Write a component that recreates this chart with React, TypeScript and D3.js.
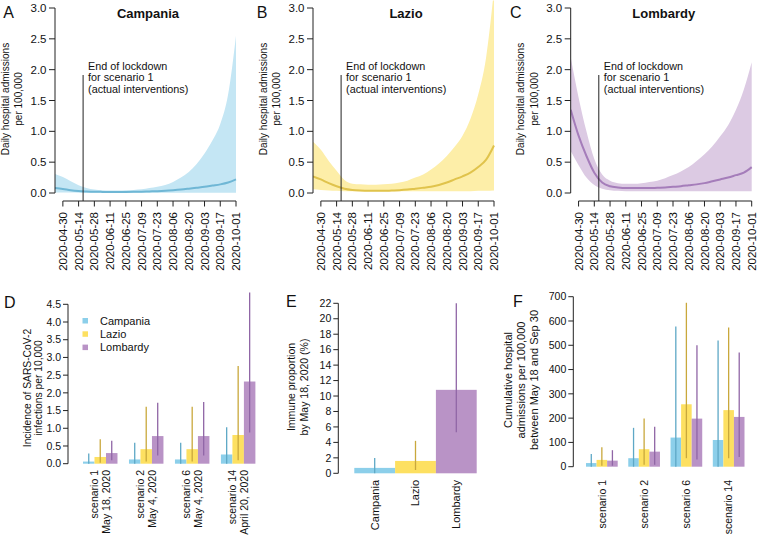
import React from 'react';
import * as d3 from 'd3';

// ---------- data ----------
const curveDates = [
  '2020-04-23', '2020-04-30', '2020-05-07', '2020-05-14', '2020-05-21', '2020-05-28',
  '2020-06-04', '2020-06-11', '2020-06-18', '2020-06-25', '2020-07-02', '2020-07-09',
  '2020-07-16', '2020-07-23', '2020-07-30', '2020-08-06', '2020-08-13', '2020-08-20',
  '2020-08-27', '2020-09-03', '2020-09-10', '2020-09-17', '2020-09-24', '2020-10-01',
];
const tickDates = [
  '2020-04-30', '2020-05-14', '2020-05-28', '2020-06-11', '2020-06-25', '2020-07-09',
  '2020-07-23', '2020-08-06', '2020-08-20', '2020-09-03', '2020-09-17', '2020-10-01',
];
const lockdownDate = '2020-05-18';
const dailyTicks = [0, 0.5, 1, 1.5, 2, 2.5, 3];

const campaniaUpper = [0.31, 0.26, 0.19, 0.125, 0.08, 0.055, 0.045, 0.04, 0.04, 0.045, 0.05, 0.06, 0.08, 0.1, 0.13, 0.18, 0.25, 0.34, 0.47, 0.64, 0.85, 1.12, 1.6, 2.55];
const campaniaMean = [0.08, 0.065, 0.045, 0.032, 0.025, 0.02, 0.018, 0.017, 0.017, 0.018, 0.02, 0.022, 0.026, 0.03, 0.036, 0.045, 0.056, 0.07, 0.085, 0.1, 0.12, 0.14, 0.17, 0.22];
const campaniaLower = [0.01, 0.01, 0.008, 0.006, 0.005, 0.005, 0.005, 0.005, 0.005, 0.005, 0.005, 0.005, 0.005, 0.005, 0.005, 0.005, 0.005, 0.005, 0.005, 0.005, 0.005, 0.005, 0.005, 0.005];

const lazioUpper = [0.83, 0.7, 0.52, 0.36, 0.21, 0.15, 0.14, 0.135, 0.135, 0.14, 0.15, 0.17, 0.2, 0.25, 0.3, 0.38, 0.48, 0.6, 0.75, 0.93, 1.2, 1.6, 2.2, 3.3];
const lazioMean = [0.27, 0.22, 0.16, 0.11, 0.07, 0.05, 0.04, 0.035, 0.035, 0.035, 0.04, 0.045, 0.055, 0.07, 0.085, 0.1, 0.13, 0.17, 0.22, 0.27, 0.33, 0.42, 0.54, 0.77];
const lazioLower = [0.06, 0.05, 0.04, 0.035, 0.03, 0.03, 0.03, 0.03, 0.03, 0.03, 0.03, 0.03, 0.03, 0.03, 0.03, 0.03, 0.03, 0.03, 0.03, 0.03, 0.03, 0.035, 0.035, 0.04];

const lombardyUpper = [2.2, 1.55, 1.0, 0.55, 0.3, 0.2, 0.16, 0.15, 0.15, 0.16, 0.18, 0.2, 0.24, 0.29, 0.35, 0.42, 0.52, 0.63, 0.76, 0.92, 1.1, 1.35, 1.68, 2.12];
const lombardyMean = [1.35, 0.93, 0.6, 0.33, 0.17, 0.11, 0.09, 0.08, 0.08, 0.08, 0.08, 0.085, 0.09, 0.1, 0.11, 0.125, 0.14, 0.16, 0.19, 0.22, 0.25, 0.29, 0.33, 0.42];
const lombardyLower = [0.68, 0.45, 0.25, 0.13, 0.07, 0.045, 0.035, 0.03, 0.03, 0.03, 0.03, 0.03, 0.03, 0.03, 0.03, 0.03, 0.03, 0.03, 0.03, 0.03, 0.03, 0.03, 0.03, 0.03];

const regions = ['Campania', 'Lazio', 'Lombardy'];

// Panel D: incidence per 10,000
const scenariosD = ['scenario 1', 'scenario 2', 'scenario 6', 'scenario 14'];
const scenarioDatesD = ['May 18, 2020', 'May 4, 2020', 'May 4, 2020', 'April 20, 2020'];
const incidenceMean = [[0.06, 0.19, 0.3], [0.12, 0.41, 0.78], [0.12, 0.41, 0.78], [0.26, 0.81, 2.32]];
const incidenceLow = [[0.0, 0.03, 0.1], [0.0, 0.06, 0.23], [0.0, 0.06, 0.23], [0.0, 0.1, 0.88]];
const incidenceHigh = [[0.29, 0.69, 0.65], [0.59, 1.61, 1.72], [0.59, 1.61, 1.74], [1.03, 2.76, 4.83]];
const incidenceTicks = [0, 0.5, 1, 1.5, 2, 2.5, 3, 3.5, 4, 4.5];

// Panel E: immune proportion (%)
const immuneMean = [0.7, 1.6, 10.8];
const immuneLow = [0.0, 0.43, 5.3];
const immuneHigh = [1.98, 4.2, 22];
const immuneTicks = [0, 2, 4, 6, 8, 10, 12, 14, 16, 18, 20, 22];

// Panel F: cumulative hospital admissions per 100,000
const scenariosF = ['scenario 1', 'scenario 2', 'scenario 6', 'scenario 14'];
const cumMean = [[15, 28, 25], [35, 72, 62], [120, 257, 198], [110, 233, 205]];
const cumLow = [[0, 4, 4], [0, 8, 8], [0, 35, 30], [0, 35, 40]];
const cumHigh = [[52, 80, 68], [160, 198, 165], [577, 675, 500], [520, 573, 470]];
const cumTicks = [0, 100, 200, 300, 400, 500, 600, 700];

// ---------- styles ----------
const FONT = '"Liberation Sans", Arial, Helvetica, sans-serif';
const AXIS = '#222';
const barColors = ['#8ccfea', '#fde061', '#b993c6'];
const errColors = ['#5ea8c6', '#c9a83c', '#9066a6'];
const bandColors = ['#c4e6f4', '#fdeea8', '#dccae3'];
const lineColors = ['#6fb7d5', '#e0c34c', '#a57dba'];

const parse = d3.timeParse('%Y-%m-%d');

type TopProps = {
  ox: number; labelX: number; letter: string; title: string; idx: number;
  upper: number[]; mean: number[]; lower: number[];
};

function TopPanel({ ox, labelX, letter, title, idx, upper, mean, lower }: TopProps) {
  const axisX = 55 + ox;
  const x = d3.scaleTime()
    .domain([parse(curveDates[0])!, parse(curveDates[curveDates.length - 1])!])
    .range([axisX, axisX + 181]);
  const y = d3.scaleLinear().domain([0, 3]).range([193, 8]);
  const pts = curveDates.map((d, i) => ({ d: parse(d)!, u: upper[i], m: mean[i], l: lower[i] }));
  const area = d3.area<any>().x(p => x(p.d)).y0(p => y(p.l)).y1(p => y(p.u)).curve(d3.curveMonotoneX);
  const line = d3.line<any>().x(p => x(p.d)).y(p => y(p.m)).curve(d3.curveMonotoneX);
  const clipId = `clip-${letter}`;
  const lx = x(parse(lockdownDate)!);
  const t0 = x(parse(tickDates[0])!);
  const t1 = x(parse(tickDates[tickDates.length - 1])!);
  return (
    <g>
      <defs>
        <clipPath id={clipId}>
          <rect x={axisX} y={0.6} width={182} height={200} />
        </clipPath>
      </defs>
      <g clipPath={`url(#${clipId})`}>
        <path d={area(pts) || ''} fill={bandColors[idx]} />
        <path d={line(pts) || ''} fill="none" stroke={lineColors[idx]} strokeWidth={2} />
      </g>
      {/* y axis */}
      <line x1={axisX} x2={axisX} y1={y(0)} y2={y(3)} stroke={AXIS} strokeWidth={1} />
      {dailyTicks.map(t => (
        <g key={t}>
          <line x1={axisX - 6} x2={axisX} y1={y(t)} y2={y(t)} stroke={AXIS} />
          <text x={axisX - 8.5} y={y(t)} dy="0.35em" textAnchor="end" fontSize={11.5}>{t.toFixed(1)}</text>
        </g>
      ))}
      {/* x axis */}
      <line x1={t0} x2={t1} y1={201} y2={201} stroke={AXIS} />
      {tickDates.map(t => {
        const tx = x(parse(t)!);
        return (
          <g key={t}>
            <line x1={tx} x2={tx} y1={201} y2={206.5} stroke={AXIS} />
            <text transform={`translate(${tx},212) rotate(-90)`} dy="0.35em" textAnchor="end" fontSize={11.5}>{t}</text>
          </g>
        );
      })}
      {/* lockdown */}
      <line x1={lx} x2={lx} y1={75} y2={201} stroke={AXIS} strokeWidth={1} />
      <text x={lx + 5} y={69.5} fontSize={10.8}>End of lockdown</text>
      <text x={lx + 5} y={81} fontSize={10.8}>for scenario 1</text>
      <text x={lx + 5} y={92.5} fontSize={10.8}>(actual interventions)</text>
      {/* titles */}
      <text x={axisX + 93} y={18} textAnchor="middle" fontSize={13} fontWeight="bold">{title}</text>
      <text x={labelX} y={17.5} fontSize={16}>{letter}</text>
      <text transform={`translate(${axisX - 50},99) rotate(-90)`} dy="0.35em" textAnchor="middle" fontSize={10}>Daily hospital admissions</text>
      <text transform={`translate(${axisX - 36.5},99) rotate(-90)`} dy="0.35em" textAnchor="middle" fontSize={10}>per 100,000</text>
    </g>
  );
}

function YAxis({ x, scale, ticks, fmt, fontSize }: { x: number; scale: d3.ScaleLinear<number, number>; ticks: number[]; fmt: (v: number) => string; fontSize: number }) {
  return (
    <g>
      <line x1={x} x2={x} y1={scale(ticks[0])} y2={scale(ticks[ticks.length - 1])} stroke={AXIS} />
      {ticks.map(t => (
        <g key={t}>
          <line x1={x - 5} x2={x} y1={scale(t)} y2={scale(t)} stroke={AXIS} />
          <text x={x - 7} y={scale(t)} dy="0.35em" textAnchor="end" fontSize={fontSize}>{fmt(t)}</text>
        </g>
      ))}
    </g>
  );
}

function PanelD() {
  const axisX = 68;
  const y = d3.scaleLinear().domain([0, 4.5]).range([463.7, 304.3]);
  const gx = d3.scaleBand<string>().domain(scenariosD).range([83, 255.4]).paddingInner(0.25).paddingOuter(0);
  const bx = d3.scaleBand<string>().domain(regions).range([0, gx.bandwidth()]).padding(0);
  return (
    <g>
      <YAxis x={axisX} scale={y} ticks={incidenceTicks} fmt={v => v.toFixed(1)} fontSize={10.5} />
      {scenariosD.map((s, gi) => (
        <g key={s}>
          {regions.map((r, ri) => {
            const x0 = gx(s)! + bx(r)!;
            const cx = x0 + bx.bandwidth() / 2;
            return (
              <g key={r}>
                <rect x={x0} y={y(incidenceMean[gi][ri])} width={bx.bandwidth()} height={y(0) - y(incidenceMean[gi][ri])} fill={barColors[ri]} />
                <line x1={cx} x2={cx} y1={y(incidenceLow[gi][ri])} y2={y(incidenceHigh[gi][ri])} stroke={errColors[ri]} strokeWidth={1.3} />
              </g>
            );
          })}
          <text transform={`translate(${gx(s)! + gx.bandwidth() / 2 - 6},470) rotate(-90)`} dy="0.35em" textAnchor="end" fontSize={10.5}>{s}</text>
          <text transform={`translate(${gx(s)! + gx.bandwidth() / 2 + 6},470) rotate(-90)`} dy="0.35em" textAnchor="end" fontSize={10.5}>{scenarioDatesD[gi]}</text>
        </g>
      ))}
      {regions.map((r, i) => (
        <g key={r}>
          <rect x={82.5} y={318 + i * 13.3} width={5.5} height={5.5} fill={barColors[i]} />
          <text x={100} y={320.7 + i * 13.3} dy="0.35em" fontSize={11}>{r}</text>
        </g>
      ))}
      <text x={4} y={308} fontSize={16}>D</text>
      <text transform="translate(27,388) rotate(-90)" dy="0.35em" textAnchor="middle" fontSize={10.3}>Incidence of SARS-CoV-2</text>
      <text transform="translate(38.5,388) rotate(-90)" dy="0.35em" textAnchor="middle" fontSize={10.3}>infections per 10,000</text>
    </g>
  );
}

function PanelE() {
  const axisX = 338.3;
  const y = d3.scaleLinear().domain([0, 22]).range([473.3, 303.3]);
  const bx = d3.scaleBand<string>().domain(regions).range([354.3, 476.7]).padding(0);
  return (
    <g>
      <YAxis x={axisX} scale={y} ticks={immuneTicks} fmt={v => String(v)} fontSize={10.5} />
      {regions.map((r, i) => {
        const cx = bx(r)! + bx.bandwidth() / 2;
        return (
          <g key={r}>
            <rect x={bx(r)!} y={y(immuneMean[i])} width={bx.bandwidth()} height={y(0) - y(immuneMean[i])} fill={barColors[i]} />
            <line x1={cx} x2={cx} y1={y(immuneLow[i])} y2={y(immuneHigh[i])} stroke={errColors[i]} strokeWidth={1.3} />
            <text transform={`translate(${cx},480) rotate(-90)`} dy="0.35em" textAnchor="end" fontSize={11}>{r}</text>
          </g>
        );
      })}
      <text x={286} y={307} fontSize={16}>E</text>
      <text transform="translate(291.7,387) rotate(-90)" dy="0.35em" textAnchor="middle" fontSize={10.5}>Immune proportion</text>
      <text transform="translate(304.5,387) rotate(-90)" dy="0.35em" textAnchor="middle" fontSize={10.5}>by May 18, 2020 (%)</text>
    </g>
  );
}

function PanelF() {
  const axisX = 573.3;
  const y = d3.scaleLinear().domain([0, 700]).range([466.7, 296.7]);
  const gx = d3.scaleBand<string>().domain(scenariosF).range([586, 744.5]).paddingInner(0.25).paddingOuter(0);
  const bx = d3.scaleBand<string>().domain(regions).range([0, gx.bandwidth()]).padding(0);
  return (
    <g>
      <YAxis x={axisX} scale={y} ticks={cumTicks} fmt={v => String(v)} fontSize={10.5} />
      {scenariosF.map((s, gi) => (
        <g key={s}>
          {regions.map((r, ri) => {
            const x0 = gx(s)! + bx(r)!;
            const cx = x0 + bx.bandwidth() / 2;
            return (
              <g key={r}>
                <rect x={x0} y={y(cumMean[gi][ri])} width={bx.bandwidth()} height={y(0) - y(cumMean[gi][ri])} fill={barColors[ri]} />
                <line x1={cx} x2={cx} y1={y(cumLow[gi][ri])} y2={y(cumHigh[gi][ri])} stroke={errColors[ri]} strokeWidth={1.3} />
              </g>
            );
          })}
          <text transform={`translate(${gx(s)! + gx.bandwidth() / 2},480) rotate(-90)`} dy="0.35em" textAnchor="end" fontSize={10.5}>{s}</text>
        </g>
      ))}
      <text x={513} y={307} fontSize={16}>F</text>
      <text transform="translate(508.3,380) rotate(-90)" dy="0.35em" textAnchor="middle" fontSize={11}>Cumulative hospital</text>
      <text transform="translate(521,380) rotate(-90)" dy="0.35em" textAnchor="middle" fontSize={11}>admissions per 100,000</text>
      <text transform="translate(533.8,380) rotate(-90)" dy="0.35em" textAnchor="middle" fontSize={11}>between May 18 and Sep 30</text>
    </g>
  );
}

export default function App() {
  return (
    <svg width={757} height={536} style={{ position: 'absolute', left: 0, top: 0, background: '#fff' }}
      fontFamily={FONT} fill="#111">
      <rect x={0} y={0} width={757} height={536} fill="#fff" />
      <TopPanel ox={0} labelX={3.3} letter="A" title="Campania" idx={0} upper={campaniaUpper} mean={campaniaMean} lower={campaniaLower} />
      <TopPanel ox={258} labelX={256.7} letter="B" title="Lazio" idx={1} upper={lazioUpper} mean={lazioMean} lower={lazioLower} />
      <TopPanel ox={515.7} labelX={510} letter="C" title="Lombardy" idx={2} upper={lombardyUpper} mean={lombardyMean} lower={lombardyLower} />
      <PanelD />
      <PanelE />
      <PanelF />
    </svg>
  );
}
